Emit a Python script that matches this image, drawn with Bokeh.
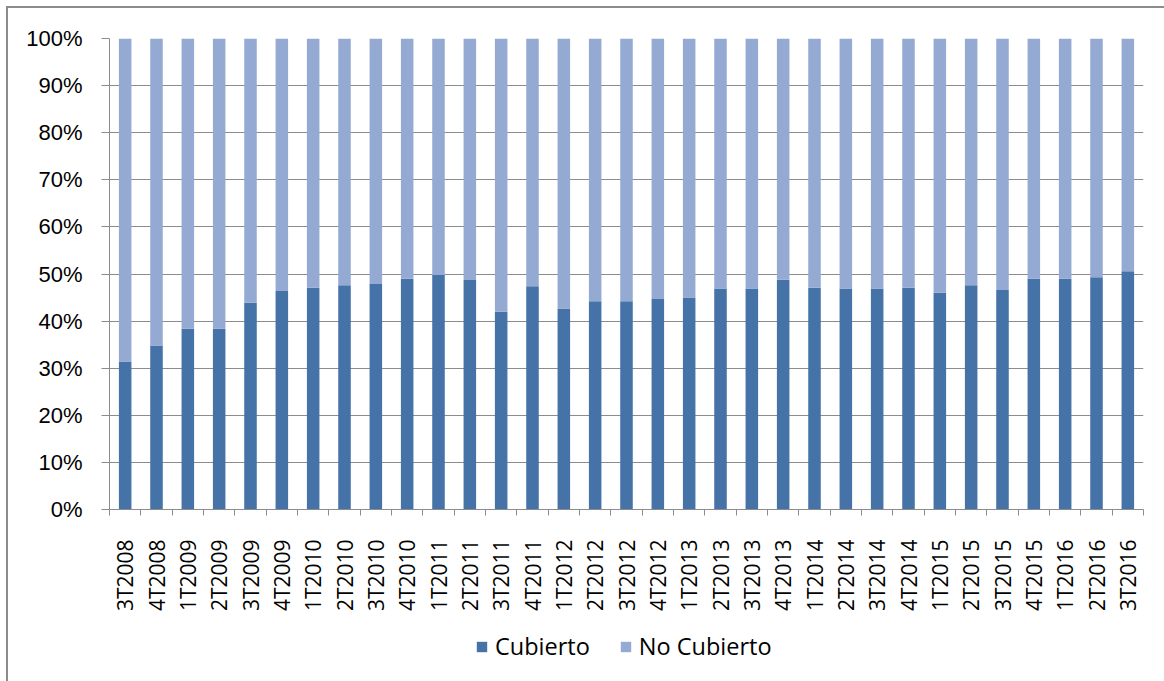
import math
from bokeh.plotting import figure
from bokeh.layouts import column
from bokeh.models import (Range1d, FixedTicker, CustomJSTickFormatter,
                          NumeralTickFormatter, Legend, LegendItem, ColumnDataSource)
from bokeh.embed import file_html
from bokeh.resources import INLINE

categories = ["3T2008", "4T2008",
              "1T2009", "2T2009", "3T2009", "4T2009",
              "1T2010", "2T2010", "3T2010", "4T2010",
              "1T2011", "2T2011", "3T2011", "4T2011",
              "1T2012", "2T2012", "3T2012", "4T2012",
              "1T2013", "2T2013", "3T2013", "4T2013",
              "1T2014", "2T2014", "3T2014", "4T2014",
              "1T2015", "2T2015", "3T2015", "4T2015",
              "1T2016", "2T2016", "3T2016"]
cubierto = [0.314, 0.348, 0.384, 0.384, 0.439, 0.464, 0.471, 0.476, 0.479, 0.490,
            0.498, 0.487, 0.420, 0.474, 0.427, 0.442, 0.442, 0.447, 0.450, 0.469,
            0.469, 0.488, 0.471, 0.469, 0.469, 0.471, 0.460, 0.476, 0.466, 0.490,
            0.490, 0.493, 0.506]
no_cubierto = [round(1 - c, 3) for c in cubierto]
series_names = ["Cubierto", "No Cubierto"]
y_ticks = [i / 10 for i in range(11)]

DARK = "#4572A7"
LIGHT = "#94AAD3"
GRID = "#8C8C8C"

n = len(categories)
xpos = [i + 0.5 for i in range(n)]
src = ColumnDataSource(dict(x=xpos, Cubierto=cubierto, **{"No Cubierto": no_cubierto}))

p = figure(x_range=Range1d(0, n), y_range=Range1d(0, 1),
           width=1156, height=607, output_backend="svg", toolbar_location=None,
           x_axis_location="below", y_axis_location="left",
           min_border_left=101, min_border_top=30, min_border_right=21, min_border_bottom=106)
p.outline_line_color = None
p.background_fill_color = "white"
p.border_fill_color = "white"

rs = p.vbar_stack(series_names, x="x", width=0.4, source=src,
                  color=[DARK, LIGHT], line_color=None)

# y axis
p.yaxis.ticker = FixedTicker(ticks=y_ticks)
p.yaxis.formatter = NumeralTickFormatter(format="0%")
p.yaxis.axis_line_color = GRID
p.yaxis.major_tick_line_color = GRID
p.yaxis.major_tick_out = 8
p.yaxis.major_tick_in = 0
p.yaxis.minor_tick_line_color = None
p.yaxis.major_label_standoff = 19
p.yaxis.major_label_text_font = "Liberation Sans"
p.yaxis.major_label_text_font_size = "22px"
p.yaxis.major_label_text_color = "black"

p.ygrid.ticker = FixedTicker(ticks=y_ticks)
p.ygrid.grid_line_color = GRID
p.ygrid.grid_line_width = 1
p.xgrid.grid_line_color = None

# x axis: labels at bar centres, tick marks at category boundaries
xa = p.xaxis[0]
xa.ticker = FixedTicker(ticks=xpos, minor_ticks=list(range(n + 1)))
xa.formatter = CustomJSTickFormatter(args=dict(labels=categories),
                                     code="return labels[Math.floor(tick)];")
xa.axis_line_color = GRID
xa.major_tick_line_color = None
xa.major_tick_out = 0
xa.major_tick_in = 0
xa.minor_tick_line_color = GRID
xa.minor_tick_out = 6
xa.minor_tick_in = 0
xa.major_label_orientation = math.pi / 2
xa.major_label_standoff = 24
xa.major_label_text_font = "Open Sans"
xa.major_label_text_font_size = "21px"
xa.major_label_text_color = "black"

# legend strip below the chart
lp = figure(x_range=Range1d(0, 1), y_range=Range1d(0, 1),
            width=1156, height=66, output_backend="svg", toolbar_location=None,
            x_axis_location=None, y_axis_location=None,
            min_border_left=0, min_border_right=0, min_border_top=0, min_border_bottom=0)
lp.outline_line_color = None
lp.xgrid.grid_line_color = None
lp.ygrid.grid_line_color = None
# zero-size swatch renderers, used only for the legend
lr0 = lp.vbar(x=[0.5], top=[0], bottom=[0], width=0, fill_color=DARK, line_color=None)
lr1 = lp.vbar(x=[0.5], top=[0], bottom=[0], width=0, fill_color=LIGHT, line_color=None)

legend = Legend(items=[LegendItem(label=series_names[0], renderers=[lr0]),
                       LegendItem(label=series_names[1], renderers=[lr1])],
                location=(366, 19), orientation="horizontal",
                glyph_width=13, glyph_height=13, label_standoff=7, spacing=29,
                padding=0, margin=0, border_line_color=None, background_fill_alpha=0,
                label_text_font="Open Sans", label_text_font_size="23.5px",
                label_text_color="black")
lp.add_layout(legend, "center")

layout = column(p, lp, spacing=0,
                styles={"margin-left": "6px", "margin-top": "6px",
                        "border-left": "2px solid #8C8C8C", "border-top": "2px solid #8C8C8C"})

open("out.html", "w").write(file_html(layout, INLINE))
